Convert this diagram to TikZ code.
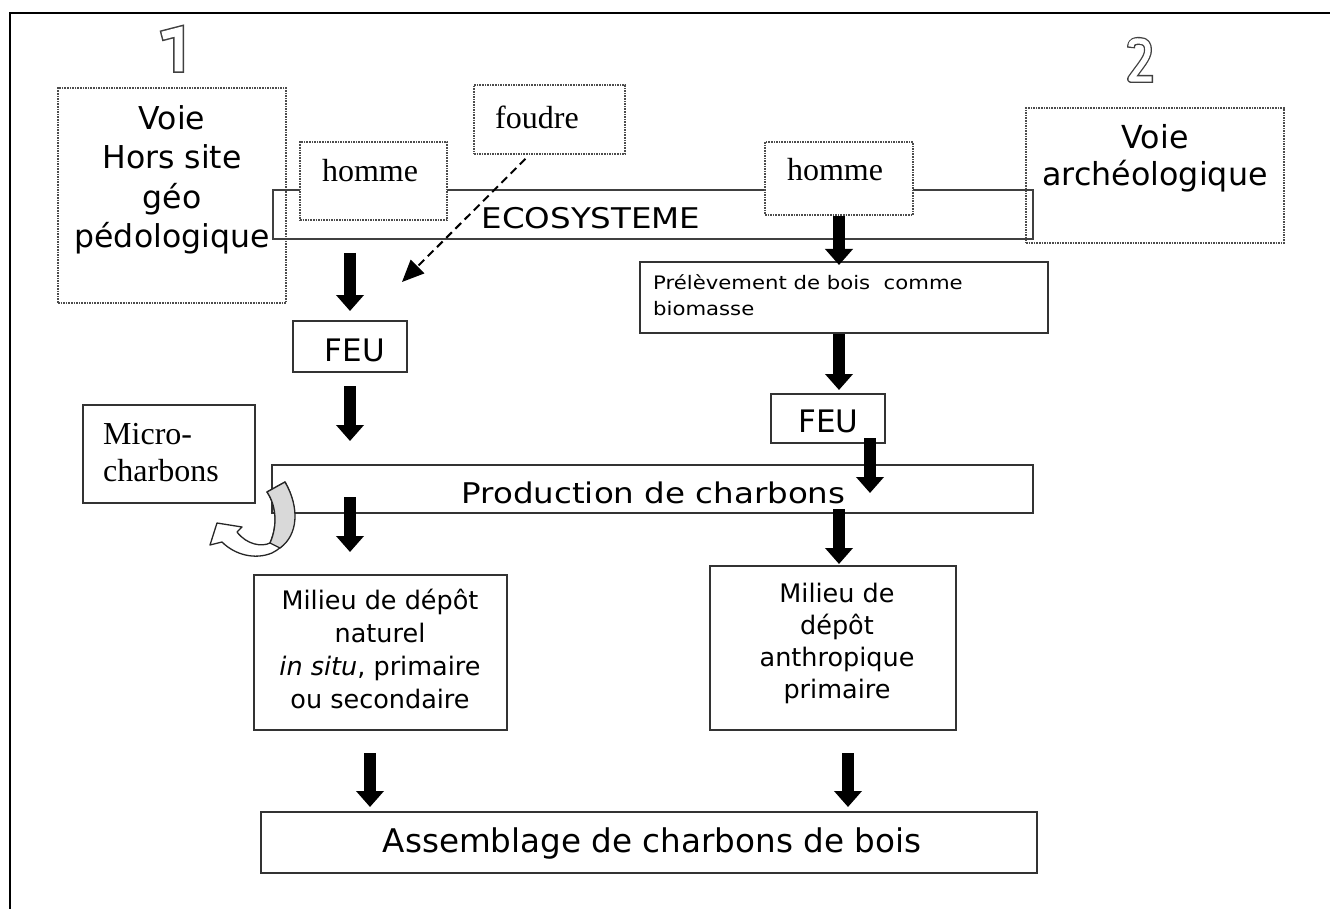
\documentclass[tikz,border=0pt]{standalone}
\usepackage{fontspec}
\setmainfont{DejaVu Sans}
\newfontfamily\seriffont{Liberation Serif}
\newfontfamily\widesans{DejaVu Sans}[FakeStretch=1.14]
\usetikzlibrary{arrows.meta,calc}
\begin{document}
\begin{tikzpicture}[x=1pt,y=-1pt,
  dotbox/.style={draw=black!70, densely dotted, line width=1.6pt, inner sep=0pt},
  solidbox/.style={draw=black!80, line width=2pt, inner sep=0pt},
  txt/.style={inner sep=0pt, align=center},
  blk/.style={line width=12pt, draw=black, -{Triangle[length=16pt,width=27pt]}},
  dasharr/.style={line width=2pt, draw=black, dash pattern=on 8pt off 5pt, -{Triangle[length=22pt,width=19pt]}},
  digitout/.style={line width=11pt, draw=black!75, line join=miter},
  digitin/.style={line width=8pt, draw=white, line join=miter, shorten <=1.5pt, shorten >=1.5pt},
  digitoutb/.style={line width=8pt, draw=black!75, line join=round},
  digitinb/.style={line width=5.4pt, draw=white, line join=round, shorten <=1.3pt, shorten >=1.3pt}
]
\useasboundingbox (0,0) rectangle (1330,909);
% frame
\draw[line width=2pt] (10,909) -- (10,13) -- (1330,13);

% digits
\draw[digitout] (161,36) -- (178.5,31.5) -- (178.5,73);
\draw[digitin]  (161,36) -- (178.5,31.5) -- (178.5,73);
\draw[digitoutb] (1131,48) .. controls (1131,40) and (1137,41) .. (1140,41) .. controls (1146,41) and (1148,45) .. (1148,50) .. controls (1148,58) and (1140,66) .. (1131,79) -- (1153,79);
\draw[digitinb]  (1131,48) .. controls (1131,40) and (1137,41) .. (1140,41) .. controls (1146,41) and (1148,45) .. (1148,50) .. controls (1148,58) and (1140,66) .. (1131,79) -- (1153,79);

% side boxes
\node[dotbox, minimum width=228pt, minimum height=215pt] (voie1) at (172,195.5) {};
\node[txt, font=\fontsize{31.5}{39.4}\selectfont] (voie1t) at (172,180) {Voie\\Hors site\\géo\\pédologique};
\node[dotbox, minimum width=258pt, minimum height=135pt] (voie2) at (1155,175.5) {};
\node[txt, font=\fontsize{31.7}{37}\selectfont] (voie2t) at (1155,158) {Voie\\archéologique};

% ecosystem
\node[draw=black!75, line width=2pt, inner sep=0pt, minimum width=760pt, minimum height=49pt] (eco) at (653,214.5) {};
\node[txt, font=\widesans\fontsize{28.5}{30}\selectfont] (ecot) at (591,218.5) {ECOSYSTEME};

% homme, foudre
\node[dotbox, fill=white, minimum width=147pt, minimum height=78pt] (homme1) at (373.5,181) {};
\node[txt, font=\seriffont\fontsize{32}{36}\selectfont] (homme1t) at (370,170.5) {homme};
\node[dotbox, fill=white, minimum width=148pt, minimum height=73pt] (homme2) at (839,178.5) {};
\node[txt, font=\seriffont\fontsize{32}{36}\selectfont] (homme2t) at (835,170) {homme};
\node[dotbox, fill=white, minimum width=151pt, minimum height=69pt] (foudre) at (549.5,119.5) {};
\node[txt, font=\seriffont\fontsize{32}{36}\selectfont] (foudret) at (537,117) {foudre};

% prelevement
\node[solidbox, minimum width=408pt, minimum height=71pt] (prel) at (844,297.5) {};
\node[txt, align=left, anchor=west, font=\widesans\fontsize{18.6}{26}\selectfont] (prelt) at (653,295) {Prélèvement de bois\ \ comme\\biomasse};

% FEU boxes
\node[solidbox, minimum width=114pt, minimum height=51pt] (feu1) at (350,346.5) {};
\node[txt, font=\fontsize{31}{34}\selectfont] (feu1t) at (355,350) {FEU};
\node[solidbox, minimum width=114pt, minimum height=49pt] (feu2) at (828,418.5) {};
\node[txt, font=\fontsize{31}{34}\selectfont] (feu2t) at (828.5,421.5) {FEU};

% micro-charbons
\node[solidbox, minimum width=172pt, minimum height=98pt] (micro) at (169,454) {};
\node[txt, align=left, anchor=west, font=\seriffont\fontsize{32}{36.7}\selectfont] (microt) at (103,452.4) {Micro-\\charbons};

% production
\node[solidbox, minimum width=761pt, minimum height=48pt] (prod) at (652.5,489) {};
\node[txt, font=\widesans\fontsize{28.5}{30}\selectfont] (prodt) at (653.5,493) {Production de charbons};

% milieux
\node[solidbox, minimum width=253pt, minimum height=155pt] (mil1) at (380.5,652.5) {};
\node[txt, font=\fontsize{25.5}{32.7}\selectfont] (mil1t) at (380,649) {Milieu de dépôt\\naturel\\\textit{in situ}, primaire\\ou secondaire};
\node[solidbox, minimum width=246pt, minimum height=164pt] (mil2) at (833,648) {};
\node[txt, font=\fontsize{25.5}{32}\selectfont] (mil2t) at (837,643) {Milieu de\\dépôt\\anthropique\\primaire};

% assemblage
\node[solidbox, minimum width=776pt, minimum height=61pt] (assem) at (649,842.5) {};
\node[txt, font=\fontsize{32.6}{36}\selectfont] (assemt) at (652,843) {Assemblage de charbons de bois};

% arrows
\draw[blk, shorten <=13pt, shorten >=9pt] (feu1.north |- eco.south) -- (feu1.north);
\coordinate (fhit) at (402,282);
\draw[dasharr] ([xshift=-24pt,yshift=-4pt]foudre.south) -- (fhit);
\draw[blk, shorten <=13pt, shorten >=23pt] (feu1.south) -- (feu1.south |- prod.north);
\draw[blk, shorten <=8pt, shorten >=22pt] (feu1.south |- prod.center) -- (feu1.south |- mil1.north);
\draw[blk, shorten >=-4pt] (homme2.south) -- (homme2.south |- prel.north);
\draw[blk, shorten >=3pt] (homme2.south |- prel.south) -- (homme2.south |- feu2.north);
\draw[blk, shorten <=-6pt, shorten >=-4pt] ([xshift=42pt]feu2.south) -- ([xshift=42pt]feu2.south |- prod.center);
\draw[blk, shorten <=-5pt, shorten >=1pt] (homme2.south |- prod.south) -- (homme2.south |- mil2.north);
\draw[blk, shorten <=22pt, shorten >=4pt] ([xshift=-10.5pt]mil1.south) -- ([xshift=-10.5pt]mil1.south |- assem.north);
\draw[blk, shorten <=22pt, shorten >=4pt] ([xshift=15pt]mil2.south) -- ([xshift=15pt]mil2.south |- assem.north);

% curved arrow (micro-charcoal escape)
\path[draw=black!85, line width=1.3pt, fill=white, line join=round]
 (267,492) -- (285,482) .. controls (300,508) and (298,540) .. (272,553)
 .. controls (255,560) and (235,555) .. (222,542) -- (210,545) -- (217,523) -- (242,527) -- (237,532)
 .. controls (247,545) and (262,547) .. (270,543)
 .. controls (278,525) and (276,505) .. (267,492) -- cycle;
\path[draw=black!85, line width=1.3pt, fill=black!15, line join=round]
 (267,492) -- (285,482) .. controls (300,508) and (298,535) .. (280,548) -- (270,543)
 .. controls (278,525) and (276,505) .. (267,492) -- cycle;
\end{tikzpicture}
\end{document}
